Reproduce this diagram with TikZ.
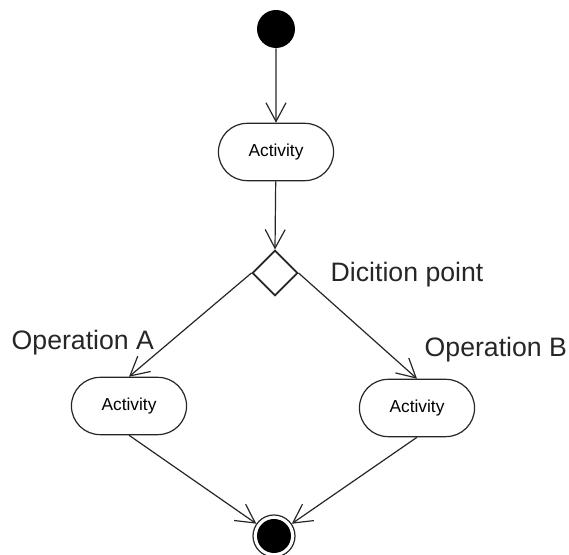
\documentclass[tikz,border=0pt]{standalone}
\usepackage{fontspec}
\setmainfont{Liberation Sans}
\usetikzlibrary{arrows.meta,shapes.misc,shapes.geometric}

\tikzset{
  flow/.style={draw=black!85, line width=0.9pt,
               -{Straight Barb[length=14pt, width=15pt]}},
  activity/.style={rounded rectangle, draw=black!85, line width=0.9pt,
                   minimum width=93pt, minimum height=43pt,
                   font=\fontsize{13pt}{15pt}\selectfont},
  caption/.style={anchor=west, text=black!85,
                  font=\fontsize{20pt}{24pt}\selectfont}
}

\begin{document}
\begin{tikzpicture}[x=0.75pt, y=-0.75pt]

\useasboundingbox (0, 0) rectangle (569, 555);

% draw the start and the first activity
\node[circle, fill=black, minimum size=28.5pt, inner sep=0pt] (start) at (276, 29) {};
\node[activity] (act) at (276, 152) {Activity};

% draw the decision point
\node[diamond, draw=black!85, line width=1.3pt, aspect=1, inner sep=0pt,
      minimum width=34pt, minimum height=34pt] (dec) at (275, 273) {};

% draw the two branches
\node[activity] (actA) at (129, 406) {Activity};
\node[activity] (actB) at (417, 408) {Activity};

% draw the final node
\node[circle, draw=black!85, line width=0.9pt, minimum size=31.5pt, inner sep=0pt,
      path picture={\fill (path picture bounding box.center) circle (12.75pt);}]
      (final) at (274, 536) {};

% draw the flows
\draw[flow] (start) -- (act);
\draw[flow] (act) -- (dec.north);
\draw[flow] (dec.west) -- (actA.north);
\draw[flow] (dec.east) -- (actB.north);
\draw[flow] (actA.south) -- (final);
\draw[flow] (actB.south) -- (final);

% draw some labels
\node[caption] (lbldec) at (326, 275) {Dicition point};
\node[caption] (lblA) at (7, 343) {Operation A};
\node[caption] (lblB) at (420, 350) {Operation B};

\end{tikzpicture}
\end{document}
